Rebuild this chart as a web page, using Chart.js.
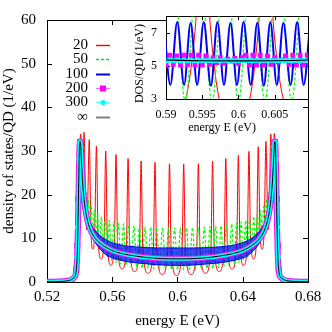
<!DOCTYPE html>
<html>
<head>
<meta charset="utf-8">
<script src="https://cdn.jsdelivr.net/npm/chart.js@4.4.1/dist/chart.umd.min.js"></script>
<style>
  html, body { margin: 0; padding: 0; background: #fff; }
  #wrap { position: relative; width: 332px; height: 332px; }
  #main { position: absolute; left: 0; top: 0; }
  #inset { position: absolute; left: 128px; top: 0; }
</style>
</head>
<body>
<div id="wrap">
  <canvas id="main" width="332" height="332"></canvas>
  <canvas id="inset" width="184" height="140"></canvas>
</div>
<script>
// values

var keyLabels = ['20', '50', '100', '200', '300', '\u221e'];

var mainXTicks = [0.52, 0.56, 0.6, 0.64, 0.68];
var mainXLabels = ['0.52', '0.56', '0.6', '0.64', '0.68'];
var mainYTicks = [0, 10, 20, 30, 40, 50, 60];
var mainYLabels = ['0', '10', '20', '30', '40', '50', '60'];
var insetXTicks = [0.59, 0.595, 0.6, 0.605];
var insetXLabels = ['0.59', '0.595', '0.6', '0.605'];
var insetYTicks = [3, 5, 7];
var insetYLabels = ['3', '5', '7'];

// N = infinity
var infE = [0.520, 0.525, 0.530, 0.533, 0.535, 0.536, 0.537, 0.5375, 0.538, 0.5385, 0.539, 0.5395,
  0.540, 0.5403, 0.5407, 0.541, 0.5415, 0.542, 0.543, 0.544, 0.545, 0.547, 0.550, 0.555, 0.560,
  0.565, 0.570, 0.575, 0.580, 0.585, 0.590, 0.595, 0.600, 0.605, 0.610, 0.615, 0.620, 0.625,
  0.630, 0.635, 0.640, 0.645, 0.650, 0.653, 0.655, 0.656, 0.657, 0.658, 0.6585, 0.659, 0.6593,
  0.6597, 0.660, 0.6605, 0.661, 0.6615, 0.662, 0.6625, 0.663, 0.664, 0.665, 0.667, 0.670, 0.675, 0.680];
var infY = [0.05, 0.08, 0.15, 0.3, 0.55, 0.8, 1.2, 1.6, 2.9, 6.0, 13, 24,
  31.5, 32.2, 31, 28.5, 25, 22, 18, 15.5, 13.8, 11.6, 9.8, 8.2, 7.2,
  6.6, 6.2, 5.9, 5.65, 5.48, 5.36, 5.31, 5.3, 5.31, 5.36, 5.48, 5.65, 5.9,
  6.2, 6.6, 7.2, 8.2, 9.8, 11.6, 13.8, 15.5, 18, 22, 25, 28.5, 31,
  32.2, 31.5, 24, 13, 6.0, 2.9, 1.6, 1.2, 0.8, 0.55, 0.3, 0.15, 0.08, 0.05];

// N = 20
var redPeakE = [0.5407, 0.5427, 0.5459, 0.5503, 0.5560, 0.5623, 0.5697, 0.5777, 0.5862, 0.5951,
  0.6038, 0.6128, 0.6215, 0.6296, 0.6373, 0.6438, 0.6495, 0.6542, 0.6572, 0.6593];
var redPeakY = [33.9, 34.3, 32.6, 31.1, 30.0, 29.2, 28.3, 27.7, 27.4, 27.1,
  27.0, 27.1, 27.7, 28.3, 29.0, 29.9, 31.0, 32.2, 33.9, 34.0];
var redFlankY = [27, 18, 12.5, 10, 9, 8.3, 8, 7.7, 7.6, 7.5, 7.6, 7.7, 8, 8.3, 9, 10, 12.5, 18, 27];
var redTroughY = [22, 12, 7.5, 5.3, 3.8, 3.0, 2.4, 2.0, 1.7, 1.5, 1.7, 2.0, 2.4, 3.0, 3.8, 5.3, 7.5, 12, 22];

// N = 50
var greenPeakE = [0.5401, 0.5405, 0.5410, 0.5418, 0.5428, 0.5441, 0.5455, 0.5471, 0.5490, 0.5510,
  0.5533, 0.5557, 0.5582, 0.5610, 0.5638, 0.5669, 0.5700, 0.5733, 0.5766, 0.5801,
  0.5836, 0.5872, 0.5908, 0.5945, 0.5982, 0.6018, 0.6055, 0.6092, 0.6128, 0.6164,
  0.6199, 0.6234, 0.6267, 0.6300, 0.6332, 0.6362, 0.6390, 0.6418, 0.6443, 0.6467,
  0.6490, 0.6510, 0.6529, 0.6545, 0.6560, 0.6572, 0.6582, 0.6590, 0.6595, 0.6599];
var greenPeakY = [31, 31.5, 30, 26, 23, 20.5, 19, 17.5, 16.4, 15.6,
  15.0, 14.5, 14.1, 13.8, 13.5, 13.3, 13.1, 12.9, 12.8, 12.7,
  12.6, 12.5, 12.5, 12.4, 12.4, 12.4, 12.4, 12.5, 12.5, 12.6,
  12.7, 12.8, 12.9, 13.1, 13.3, 13.5, 13.8, 14.1, 14.5, 15.0,
  15.6, 16.4, 17.5, 19, 20.5, 23, 26, 30, 31.5, 31];
var greenTroughY = [30.5, 29.5, 26, 22, 18.5, 15.5, 13, 11, 9.3, 7.5,
  6.4, 5.6, 5.0, 4.5, 4.1, 3.8, 3.5, 3.3, 3.15, 3.05,
  2.95, 2.9, 2.85, 2.8, 2.8, 2.8, 2.85, 2.9, 2.95, 3.05,
  3.15, 3.3, 3.5, 3.8, 4.1, 4.5, 5.0, 5.6, 6.4, 7.5,
  9.3, 11, 13, 15.5, 18.5, 22, 26, 29.5, 30.5];

// N = 100, spread of the fast oscillation in the main panel
var blueBandE = [0.541, 0.543, 0.545, 0.548, 0.552, 0.556, 0.560, 0.565, 0.570, 0.580, 0.590, 0.600,
  0.610, 0.620, 0.630, 0.635, 0.640, 0.644, 0.648, 0.652, 0.655, 0.657, 0.659];
var blueUpperY = [27, 19, 15.2, 12.6, 10.8, 9.7, 9.0, 8.5, 8.2, 7.9, 7.8, 7.8,
  7.8, 7.9, 8.2, 8.5, 9.0, 9.7, 10.8, 12.6, 15.2, 19, 27];
var blueLowerY = [27, 17, 12.8, 10.0, 7.8, 6.3, 5.5, 5.0, 4.6, 4.2, 3.9, 3.8,
  3.9, 4.2, 4.6, 5.0, 5.5, 6.3, 7.8, 10.0, 12.8, 17, 27];
// N = 100 in the inset
var blueInsetE = [0.5897, 0.5906, 0.59155, 0.5925, 0.5934, 0.5943, 0.5952, 0.5962, 0.5971, 0.5980,
  0.5989, 0.5998, 0.6007, 0.6017, 0.6026, 0.6035, 0.6044, 0.6053, 0.6062, 0.6072, 0.6081, 0.6090, 0.6099];
var blueInsetY = [7.6, 3.85, 7.65, 3.85, 7.6, 3.85, 7.65, 3.8, 7.65, 3.85, 7.6, 3.85,
  7.65, 3.85, 7.6, 3.8, 7.65, 3.85, 7.6, 3.85, 7.65, 3.85, 7.6];

// N = 200 and 300 symbols visible on the band edges
var magMarkE = [0.5380, 0.5385, 0.5391, 0.5402, 0.5411, 0.6589, 0.6598, 0.6609, 0.6615, 0.6620];
var magMarkY = [2.9, 8.3, 19.0, 32.0, 29.0, 29.0, 32.0, 19.0, 8.3, 2.9];
var cyanMarkE = [0.5382, 0.5387, 0.5396, 0.5402, 0.5408, 0.6592, 0.6598, 0.6604, 0.6613, 0.6618];
var cyanMarkY = [5.7, 12.6, 28.1, 32.0, 30.9, 30.9, 32.0, 28.1, 12.6, 5.7];

// N = 200 and 300 samples in the inset
var sampleE = [0.5895, 0.5900, 0.5905, 0.5910, 0.5915, 0.5920, 0.5925, 0.5930, 0.5935, 0.5940,
  0.5945, 0.5950, 0.5955, 0.5960, 0.5965, 0.5970, 0.5975, 0.5980, 0.5985, 0.5990,
  0.5995, 0.6000, 0.6005, 0.6010, 0.6015, 0.6020, 0.6025, 0.6030, 0.6035, 0.6040,
  0.6045, 0.6050, 0.6055, 0.6060, 0.6065, 0.6070, 0.6075, 0.6080, 0.6085, 0.6090,
  0.6095, 0.6100];
var magInsetY = [5.6, 5.05, 5.65, 5.1, 5.6, 5.05, 5.65, 5.1, 5.65, 5.05,
  5.65, 5.05, 5.6, 5.1, 5.5, 5.2, 5.5, 5.15, 5.4, 5.3,
  5.45, 5.15, 5.5, 5.65, 5.05, 5.65, 5.05, 5.65, 5.05, 5.6,
  5.1, 5.5, 5.25, 5.35, 5.6, 5.1, 5.65, 5.05, 5.65, 5.05,
  5.65, 5.05];
var cyanInsetY = [5.35, 5.3, 5.34, 5.31, 5.35, 5.3, 5.34, 5.31, 5.34, 5.31,
  5.33, 5.32, 5.32, 5.33, 5.31, 5.34, 5.3, 5.35, 5.31, 5.34,
  5.31, 5.33, 5.32, 5.32, 5.33, 5.31, 5.34, 5.3, 5.35, 5.31,
  5.34, 5.31, 5.33, 5.32, 5.32, 5.33, 5.31, 5.34, 5.3, 5.35,
  5.31, 5.34];

// STYLE

var RED = '#ff0000';
var GREEN = '#00ff00';
var BLUE = '#0000ff';
var MAGENTA = '#ff00ff';
var CYAN = '#00ffff';
var FONT = '"Liberation Serif", "Times New Roman", serif';

var keyStyle = [
  { color: '#ff0000', height: 1.4 },
  { color: '#00e000', height: 1.4, dash: true },
  { color: '#0000ff', height: 2 },
  { color: '#ff66ff', height: 1.2, mark: 'rect', markColor: '#ff00ff' },
  { color: '#55ffff', height: 1.2, mark: 'circle', markColor: '#00ffff' },
  { color: '#808080', height: 2 }
];

Chart.defaults.font.family = FONT;
Chart.defaults.color = '#000';

function pts(xs, ys) {
  return xs.map(function (x, i) { return { x: x, y: ys[i] }; });
}

// peaks of a finite chain joined through their troughs, with the smooth tails outside the band
function levels(peakE, peakY, troughY, flankY) {
  var out = pts(infE, infY).filter(function (p) { return p.x < 0.5385; });
  peakE.forEach(function (e, i) {
    out.push({ x: e, y: peakY[i] });
    if (i === peakE.length - 1) { return; }
    var gap = peakE[i + 1] - e;
    if (flankY) {
      var off = Math.min(0.001, gap * 0.3);
      out.push({ x: e + off, y: flankY[i] });
      out.push({ x: e + gap / 2, y: troughY[i] });
      out.push({ x: peakE[i + 1] - off, y: flankY[i] });
    } else {
      out.push({ x: e + gap / 2, y: troughY[i] });
    }
  });
  return out.concat(pts(infE, infY).filter(function (p) { return p.x > 0.6615; }));
}

// gnuplot-like border with inward ticks on all four sides
var frameTicks = {
  id: 'frameTicks',
  beforeDatasetsDraw: function (chart, args, opts) {
    var ctx = chart.ctx, a = chart.chartArea;
    var sx = chart.scales.x, sy = chart.scales.y;
    ctx.save();
    if (opts.fill) {
      ctx.fillStyle = opts.fill;
      ctx.fillRect(a.left, a.top, a.right - a.left, a.bottom - a.top);
    }
    ctx.strokeStyle = '#000';
    ctx.lineWidth = 1;
    ctx.beginPath();
    sx.ticks.forEach(function (t) {
      var px = Math.round(sx.getPixelForValue(t.value)) + 0.5;
      ctx.moveTo(px, a.bottom); ctx.lineTo(px, a.bottom - opts.len);
      ctx.moveTo(px, a.top); ctx.lineTo(px, a.top + opts.len);
    });
    sy.ticks.forEach(function (t) {
      var py = Math.round(sy.getPixelForValue(t.value)) + 0.5;
      ctx.moveTo(a.left, py); ctx.lineTo(a.left + opts.len, py);
      ctx.moveTo(a.right, py); ctx.lineTo(a.right - opts.len, py);
    });
    ctx.stroke();
    ctx.strokeRect(Math.round(a.left) + 0.5, Math.round(a.top) + 0.5,
      Math.round(a.right - a.left), Math.round(a.bottom - a.top));
    ctx.restore();
  }
};

// key in the upper left, text right-aligned and sample to its right
var gnuKey = {
  id: 'gnuKey',
  afterDraw: function (chart) {
    var ctx = chart.ctx, a = chart.chartArea;
    var textX = a.left + 41, x0 = a.left + 49, x1 = a.left + 63, xm = (x0 + x1) / 2;
    ctx.save();
    ctx.font = '15px ' + FONT;
    ctx.textAlign = 'right';
    ctx.textBaseline = 'middle';
    keyLabels.forEach(function (label, i) {
      var s = keyStyle[i];
      var y = Math.round(a.top + 24.7 + i * 14.4);
      ctx.fillStyle = '#000';
      ctx.fillText(label, textX, y);
      ctx.fillStyle = s.color;
      var top = y + 0.5 - s.height / 2;
      if (s.dash) {
        for (var x = x0; x < x1; x += 5) { ctx.fillRect(x, top, Math.min(3, x1 - x), s.height); }
      } else {
        ctx.fillRect(x0, top, x1 - x0, s.height);
      }
      if (s.mark === 'rect') {
        ctx.fillStyle = s.markColor;
        ctx.fillRect(xm - 3, y - 2.5, 6, 6);
      } else if (s.mark === 'circle') {
        ctx.fillStyle = s.markColor;
        ctx.beginPath();
        ctx.arc(xm, y + 0.5, 2.6, 0, Math.PI * 2);
        ctx.fill();
      }
    });
    ctx.restore();
  }
};

function axes(c) {
  return {
    x: {
      type: 'linear', min: c.xMin, max: c.xMax,
      afterBuildTicks: function (s) { s.ticks = c.xTicks.map(function (v) { return { value: v }; }); },
      afterFit: function (s) { s.height = c.xHeight; },
      grid: { display: false, drawTicks: false },
      border: { display: false },
      ticks: {
        padding: c.xPad, maxRotation: 0, autoSkip: false, font: { size: c.font },
        callback: function (v, i) { return c.xLabels[i]; }
      },
      title: { display: true, text: c.xTitle, font: { size: c.font }, padding: { top: 0, bottom: c.xTitlePad } }
    },
    y: {
      type: 'linear', min: c.yMin, max: c.yMax,
      afterBuildTicks: function (s) { s.ticks = c.yTicks.map(function (v) { return { value: v }; }); },
      afterFit: function (s) { s.width = c.yWidth; },
      grid: { display: false, drawTicks: false },
      border: { display: false },
      ticks: {
        padding: c.yPad, autoSkip: false, font: { size: c.font },
        callback: function (v, i) { return c.yLabels[i]; }
      },
      title: { display: true, text: c.yTitle, font: { size: c.font }, padding: { top: c.yTitlePad, bottom: 0 } }
    }
  };
}

var lineDefaults = {
  point: { radius: 0, hoverRadius: 0 },
  line: { cubicInterpolationMode: 'monotone', capBezierPoints: false, fill: false }
};

var redLine = levels(redPeakE, redPeakY, redTroughY, redFlankY);
var greenLine = levels(greenPeakE, greenPeakY, greenTroughY);

new Chart(document.getElementById('main'), {
  type: 'line',
  data: {
    datasets: [
      { label: '\u221e', data: pts(infE, infY), borderColor: '#000', borderWidth: 1, order: 0 },
      { label: '300 symbols', data: pts(cyanMarkE, cyanMarkY), showLine: false, pointRadius: 2.6,
        pointStyle: 'circle', pointBackgroundColor: CYAN, pointBorderColor: CYAN, pointBorderWidth: 0, order: 1 },
      { label: '300', data: pts(infE, infY), borderColor: CYAN, borderWidth: 4, order: 2 },
      { label: '200 symbols', data: pts(magMarkE, magMarkY), showLine: false, pointRadius: 4.2,
        pointStyle: 'rect', pointBackgroundColor: MAGENTA, pointBorderColor: MAGENTA, pointBorderWidth: 0, order: 3 },
      { label: '200', data: pts(infE, infY), borderColor: MAGENTA, borderWidth: 6, order: 4 },
      { label: '100 top', data: pts(blueBandE, blueUpperY), borderColor: BLUE, borderWidth: 1,
        fill: '+1', backgroundColor: 'rgba(0,0,255,0.72)', order: 5 },
      { label: '100 bottom', data: pts(blueBandE, blueLowerY), borderColor: BLUE, borderWidth: 1, order: 5 },
      { label: '50', data: greenLine, borderColor: GREEN, borderWidth: 1.2, borderDash: [3, 2], order: 6 },
      { label: '20', data: redLine, borderColor: RED, borderWidth: 1, order: 7 }
    ]
  },
  options: {
    responsive: false,
    animation: false,
    events: [],
    layout: { padding: { top: 16, right: 24, left: 0, bottom: 0 } },
    elements: lineDefaults,
    scales: axes({
      xMin: 0.52, xMax: 0.68, xTicks: mainXTicks, xLabels: mainXLabels, xHeight: 50, xPad: 6,
      xTitle: 'energy E (eV)', xTitlePad: 2,
      yMin: 0, yMax: 60, yTicks: mainYTicks, yLabels: mainYLabels, yWidth: 47, yPad: 11,
      yTitle: 'density of states/QD (1/eV)', yTitlePad: 0, font: 15
    }),
    plugins: { legend: { display: false }, tooltip: { enabled: false }, frameTicks: { len: 5 } }
  },
  plugins: [frameTicks, gnuKey]
});

new Chart(document.getElementById('inset'), {
  type: 'line',
  data: {
    datasets: [
      { label: '\u221e', data: pts(infE, infY), borderColor: '#000', borderWidth: 1.2, order: 0 },
      { label: '300', data: pts(sampleE, cyanInsetY), borderColor: CYAN, borderWidth: 2,
        cubicInterpolationMode: 'default', tension: 0, pointRadius: 2.6, pointStyle: 'circle',
        pointBackgroundColor: CYAN, pointBorderColor: CYAN, pointBorderWidth: 0, order: 1 },
      { label: '200', data: pts(sampleE, magInsetY), borderColor: MAGENTA, borderWidth: 1,
        cubicInterpolationMode: 'default', tension: 0, pointRadius: 3.5, pointStyle: 'rect',
        pointBackgroundColor: MAGENTA, pointBorderColor: MAGENTA, pointBorderWidth: 0, order: 2 },
      { label: '100', data: pts(blueInsetE, blueInsetY), borderColor: BLUE, borderWidth: 2, order: 3 },
      { label: '50', data: greenLine, borderColor: GREEN, borderWidth: 1.2, borderDash: [3, 2], order: 4 },
      { label: '20', data: redLine, borderColor: RED, borderWidth: 1, order: 5 }
    ]
  },
  options: {
    responsive: false,
    animation: false,
    events: [],
    layout: { padding: { top: 16, right: 4, left: 0, bottom: 0 } },
    elements: lineDefaults,
    scales: axes({
      xMin: 0.59, xMax: 0.6096, xTicks: insetXTicks, xLabels: insetXLabels, xHeight: 41, xPad: 9,
      xTitle: 'energy E (eV)          ', xTitlePad: 5,
      yMin: 3, yMax: 8, yTicks: insetYTicks, yLabels: insetYLabels, yWidth: 38, yPad: 9,
      yTitle: 'DOS/QD (1/eV)    ', yTitlePad: 5, font: 12
    }),
    plugins: { legend: { display: false }, tooltip: { enabled: false }, frameTicks: { len: 4, fill: '#fff' } }
  },
  plugins: [frameTicks]
});
</script>
</body>
</html>
